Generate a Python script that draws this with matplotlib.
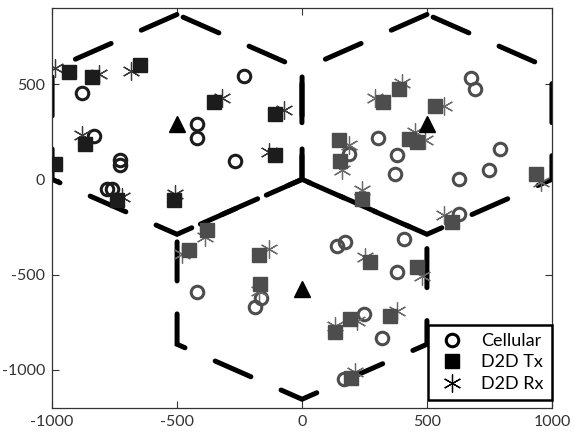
import numpy as np
import matplotlib
matplotlib.use('Agg')
import matplotlib.pyplot as plt
from matplotlib.lines import Line2D

plt.rcParams['font.family'] = ['Lato', 'DejaVu Sans']
plt.rcParams['axes.unicode_minus'] = False

# base stations (cell centres) and cell radius
bs_x = [-500, 500, 0]
bs_y = [289, 289, -577]
raio = 577

# cell 1 (top left)
c1_cel_x = [-880, -833, -727, -727, -780, -760, -233, -420, -420, -270]
c1_cel_y = [454, 226, 100, 74, -49, -49, 544, 293, 219, 95]
c1_tx_x = [-934, -840, -649, -867, -987, -740, -513, -351, -110, -110]
c1_tx_y = [565, 538, 600, 188, 83, -110, -110, 407, 342, 130]
c1_rx_x = [-987, -813, -683, -880, -1005, -720, -507, -320, -73, -133]
c1_rx_y = [583, 553, 568, 232, 85, -93, -74, 430, 363, 144]

# cell 2 (top right)
c2_cel_x = [302, 380, 373, 186, 677, 690, 793, 747, 627, 627]
c2_cel_y = [219, 130, 30, 132, 530, 477, 161, 47, 4, -181]
c2_tx_x = [387, 324, 533, 147, 153, 427, 460, 240, 937, 600]
c2_tx_y = [477, 407, 384, 205, 96, 214, 196, -102, 30, -221]
c2_rx_x = [400, 293, 566, 186, 160, 493, 450, 240, 957, 566]
c2_rx_y = [504, 425, 384, 179, 47, 205, 250, -58, -14, -189]

# cell 3 (bottom)
c3_cel_x = [-420, -163, -190, 140, 173, 407, 380, 247, 320, 167]
c3_cel_y = [-589, -623, -668, -347, -330, -312, -484, -707, -830, -1049]
c3_tx_x = [-380, -451, -173, -167, 273, 460, 193, 130, 350, 196]
c3_tx_y = [-265, -370, -395, -549, -435, -461, -733, -803, -716, -1040]
c3_rx_x = [-387, -480, -133, -173, 253, 480, 133, 220, 380, 213]
c3_rx_y = [-304, -391, -365, -588, -409, -505, -768, -742, -689, -1009]

legenda = ['Cellular', 'D2D Tx', 'D2D Rx']
asterisco = (6, 2, 0)

fig = plt.figure(figsize=(5.74, 4.36), dpi=100)
ax = fig.add_axes([52 / 574, 1 - 408 / 436, 500 / 574, 400 / 436])

# hexagons: start at the top vertex, go counter-clockwise
ang = np.radians([90, 150, 210, 270, 330, 30, 90])
for cx, cy in zip(bs_x, bs_y):
    ax.plot(cx + raio * np.cos(ang), cy + raio * np.sin(ang), color='black',
            lw=3.6, linestyle=(0, (7.8, 6.6)), dash_capstyle='round',
            dash_joinstyle='miter', zorder=2)

celulas = [
    (c1_cel_x, c1_cel_y, c1_tx_x, c1_tx_y, c1_rx_x, c1_rx_y, '#1c1c1c', '#3a3a3a'),
    (c2_cel_x, c2_cel_y, c2_tx_x, c2_tx_y, c2_rx_x, c2_rx_y, '#4d4d4d', '#6a6a6a'),
    (c3_cel_x, c3_cel_y, c3_tx_x, c3_tx_y, c3_rx_x, c3_rx_y, '#4d4d4d', '#6a6a6a'),
]
for cel_x, cel_y, tx_x, tx_y, rx_x, rx_y, cor, cor_rx in celulas:
    ax.plot(cel_x, cel_y, 'o', ls='none', ms=9, mfc='none', mec=cor, mew=2.2, zorder=3)
    ax.plot(rx_x, rx_y, marker=asterisco, ls='none', ms=13, mec=cor_rx, mew=0.9, zorder=3)
    ax.plot(tx_x, tx_y, 's', ls='none', ms=9.5, color=cor, zorder=4)

ax.plot(bs_x, bs_y, '^', ls='none', ms=11, color='black', zorder=5)

ax.set_xlim(-1000, 1000)
ax.set_ylim(-1200, 900)
ax.set_xticks([-1000, -500, 0, 500, 1000])
ax.set_yticks([-1000, -500, 0, 500])
ax.tick_params(direction='in', length=5, width=0.8, top=True, right=True,
               labelsize=11.5, colors='#333333', pad=5)
for s in ax.spines.values():
    s.set_linewidth(0.9)
    s.set_color('#333333')

handles = [
    Line2D([], [], marker='o', ls='none', ms=9, mfc='none', mec='black', mew=2.2),
    Line2D([], [], marker='s', ls='none', ms=9.5, color='black'),
    Line2D([], [], marker=asterisco, ls='none', ms=13, mec='black', mew=0.9),
]
leg = ax.legend(handles, legenda, loc='lower right', bbox_to_anchor=(1.0, 0.02),
                borderaxespad=0, fontsize=13, fancybox=False, framealpha=1,
                handletextpad=0.7, borderpad=0.45, labelspacing=0.3, handlelength=1.8)
leg.get_frame().set_edgecolor('black')
leg.get_frame().set_linewidth(1.8)

fig.savefig('out.png', dpi=100)
